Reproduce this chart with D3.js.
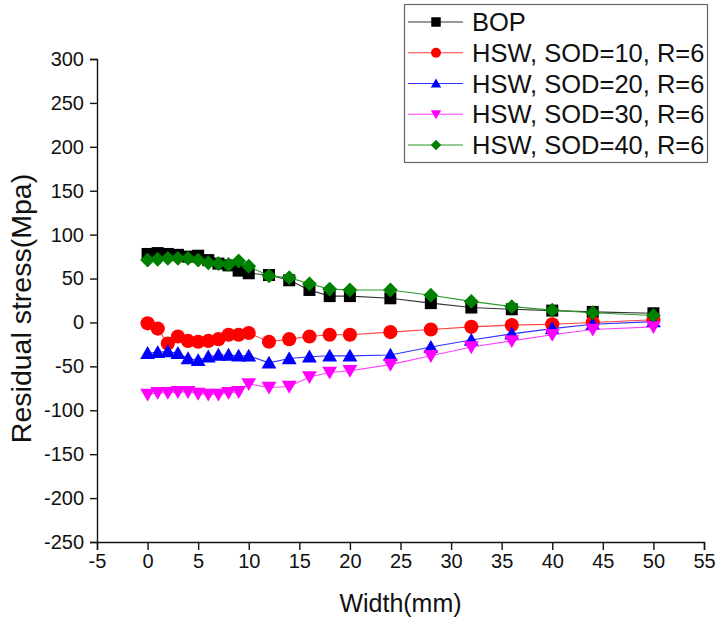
<!DOCTYPE html>
<html>
<head>
<meta charset="utf-8">
<script src="https://cdn.jsdelivr.net/npm/d3@7"></script>
<style>
  html, body { margin: 0; padding: 0; background: #fff; }
  svg { display: block; font-family: "Liberation Sans", Arial, sans-serif; }
</style>
</head>
<body>
<svg id="chart" width="718" height="624"></svg>
<script>
// ---- data ----
const widths = [0,1,2,3,4,5,6,7,8,9,10,12,14,16,18,20,24,28,32,36,40,44,50];
const bop    = [78,79,78,77,75,76,71,67,65,59,56,54,48,37,30,30,27.5,22,17,15,13.5,12,10.5];
const sod10  = [-1,-7,-24,-16,-21,-22,-21,-19,-14,-14,-12,-22,-19,-16,-14,-14,-11,-8,-5,-3,-2,0,3];
const sod20  = [-35,-34,-33,-35,-41,-43,-39,-37,-37,-38,-38,-46,-41,-39,-38,-38,-37,-28,-20,-13,-7,-2,1];
const sod30  = [-82,-80,-80,-79,-79,-81,-82,-82,-80,-79,-70,-74,-73,-62,-57,-55,-48,-38,-28,-21,-14,-8,-5];
const sod40  = [71,72,73,73,73,71,68,67,66,70,64,53,51,44,38,37,37,31,24,18,14,11,8];
const seriesNames = ["BOP","HSW, SOD=10, R=6","HSW, SOD=20, R=6","HSW, SOD=30, R=6","HSW, SOD=40, R=6"];
const seriesValues = [bop, sod10, sod20, sod30, sod40];
const seriesColors = ["#000000","#ff0000","#0000ff","#ff00ff","#008000"];
const lineColors = ["#333333","#ff4040","#3030ff","#ff40ff","#2a9a2a"];
const seriesSymbols = ["square","circle","triangleUp","triangleDown","diamond"];
const xTicks = [-5,0,5,10,15,20,25,30,35,40,45,50,55];
const yTicks = [-250,-200,-150,-100,-50,0,50,100,150,200,250,300];
const xLabel = "Width(mm)";
const yLabel = "Residual stress(Mpa)";

// ---- layout ----
const svg = d3.select("#chart");
const L = 97, R = 704, T = 59, B = 542;
const x = d3.scaleLinear().domain([-5, 55]).range([L, R]);
const y = d3.scaleLinear().domain([-250, 300]).range([B, T]);
const fmt = d => String(d); // plain hyphen minus

// axes
const xMinor = d3.range(-5, 55.01, 2.5);
const yMinor = d3.range(-250, 300.01, 25);
const gx = svg.append("g").attr("transform", `translate(0,${B})`);
gx.call(d3.axisBottom(x).tickValues(xMinor).tickSize(4.5).tickFormat(""))
  .call(g => g.select(".domain").remove());
gx.call(d3.axisBottom(x).tickValues(xTicks).tickSize(8).tickPadding(4).tickFormat(fmt));
gx.selectAll("text").attr("font-size", 20).attr("fill", "#111").attr("font-family", "Liberation Sans, Arial, sans-serif");
gx.selectAll("line, path").attr("stroke", "#111").attr("stroke-width", 1.4);

const gy = svg.append("g").attr("transform", `translate(${L},0)`);
gy.call(d3.axisLeft(y).tickValues(yMinor).tickSize(4).tickFormat(""))
  .call(g => g.select(".domain").remove());
gy.call(d3.axisLeft(y).tickValues(yTicks).tickSize(7).tickPadding(6).tickFormat(fmt));
gy.selectAll("text").attr("font-size", 20).attr("fill", "#111").attr("font-family", "Liberation Sans, Arial, sans-serif");
gy.selectAll("line, path").attr("stroke", "#111").attr("stroke-width", 1.4);

// axis titles
svg.append("text").attr("x", (L + R) / 2).attr("y", 612).attr("text-anchor", "middle")
  .attr("font-size", 25).attr("fill", "#111").text(xLabel);
svg.append("text").attr("transform", `translate(31,${(T + B) / 2 + 8}) rotate(-90)`)
  .attr("text-anchor", "middle").attr("font-size", 28.5).attr("fill", "#111").text(yLabel);

// symbols
function symbolPath(kind, s) {
  const h = s / 2;
  switch (kind) {
    case "square": return `M${-h},${-h}H${h}V${h}H${-h}Z`;
    case "circle": return d3.symbol().type(d3.symbolCircle).size(Math.PI * h * h * 1.1)();
    case "triangleUp": return `M0,${-h * 1.05}L${h * 1.1},${h * 0.85}L${-h * 1.1},${h * 0.85}Z`;
    case "triangleDown": return `M0,${h * 1.05}L${h * 1.1},${-h * 0.85}L${-h * 1.1},${-h * 0.85}Z`;
    case "diamond": return `M0,${-h * 1.1}L${h * 1.1},0L0,${h * 1.1}L${-h * 1.1},0Z`;
  }
}

const line = d3.line().x(d => x(d[0])).y(d => y(d[1]));
const plot = svg.append("g");
seriesValues.forEach((vals, i) => {
  const pts = widths.map((w, j) => [w, vals[j]]);
  const g = plot.append("g");
  g.append("path").datum(pts).attr("d", line).attr("fill", "none")
    .attr("stroke", lineColors[i]).attr("stroke-width", 1.1);
  g.selectAll("path.m").data(pts).join("path").attr("class", "m")
    .attr("transform", d => `translate(${x(d[0])},${y(d[1])})`)
    .attr("d", symbolPath(seriesSymbols[i], i === 0 ? 12 : 13.5))
    .attr("fill", seriesColors[i]);
});

// legend
const lg = svg.append("g");
lg.append("rect").attr("x", 404.5).attr("y", 4.5).attr("width", 303).attr("height", 158)
  .attr("fill", "#fff").attr("stroke", "#666").attr("stroke-width", 1.2);
const ly = d3.scalePoint().domain(seriesNames).range([22, 145]);
seriesNames.forEach((n, i) => {
  const yy = ly(n);
  lg.append("line").attr("x1", 408).attr("x2", 463).attr("y1", yy).attr("y2", yy)
    .attr("stroke", lineColors[i]).attr("stroke-width", 1.1);
  lg.append("path").attr("transform", `translate(436,${yy})`)
    .attr("d", symbolPath(seriesSymbols[i], 9.5)).attr("fill", seriesColors[i]);
  lg.append("text").attr("x", 472).attr("y", yy).attr("dy", "0.36em")
    .attr("font-size", 25.5).attr("fill", "#111").text(n);
});
</script>
</body>
</html>
